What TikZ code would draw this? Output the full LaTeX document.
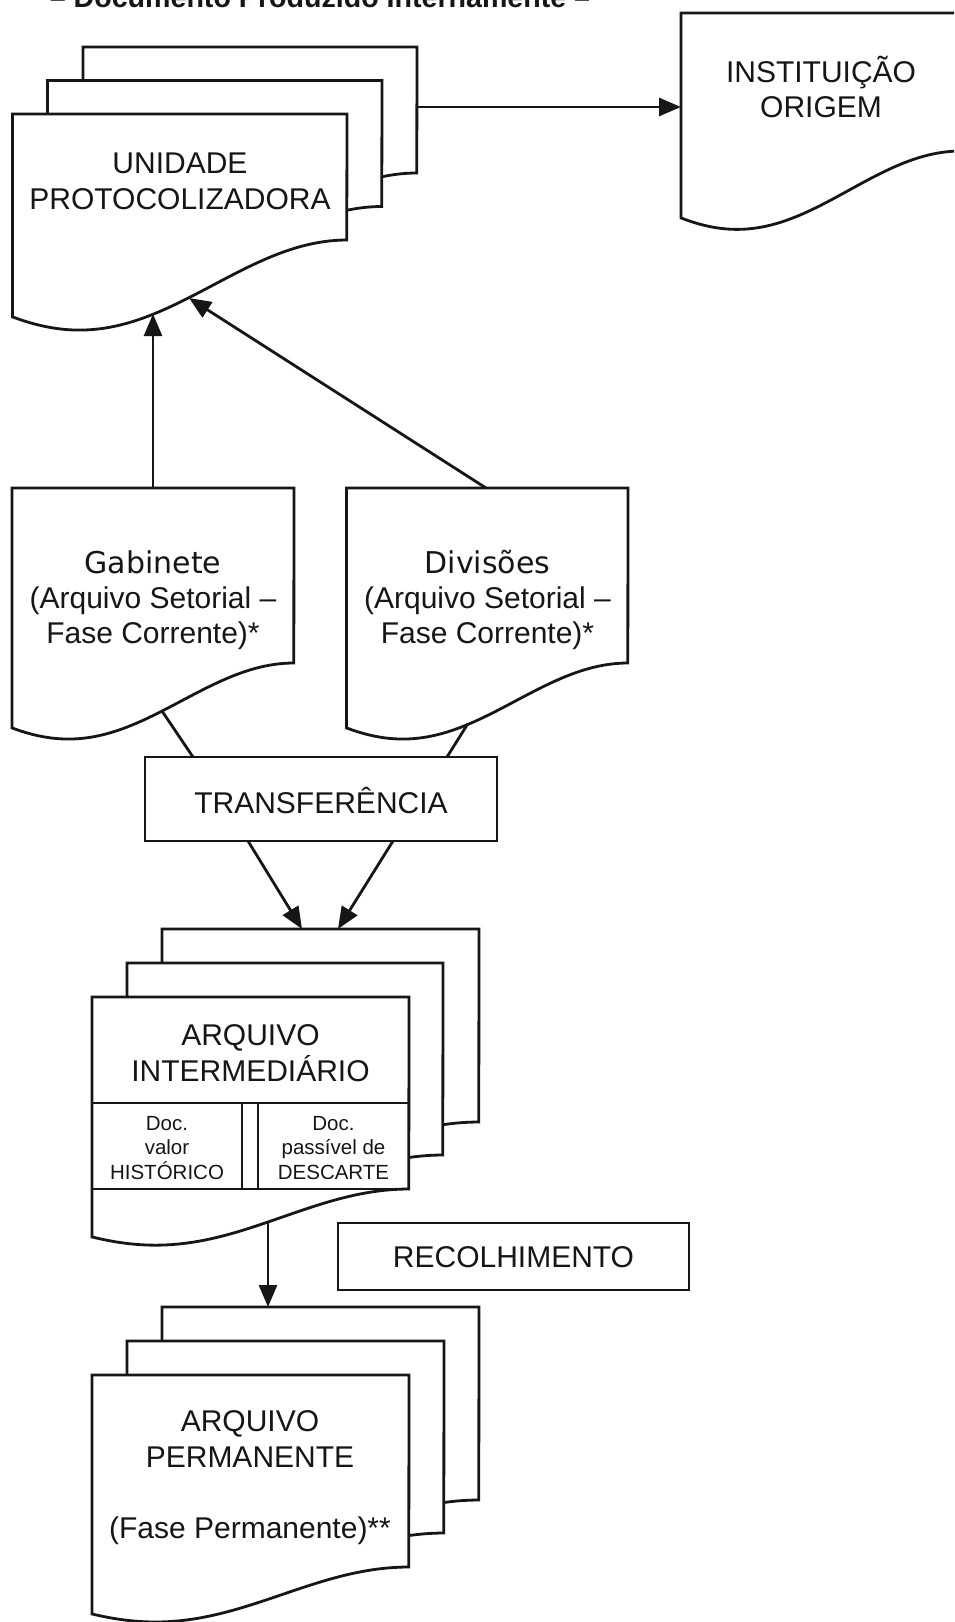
\documentclass[tikz,border=0pt]{standalone}
\usepackage{fontspec}
\setmainfont{Liberation Sans}
\newfontfamily\dejavu{DejaVu Sans}
\usetikzlibrary{arrows.meta}
\definecolor{ink}{RGB}{22,22,22}
\newcommand\stk[1]{\begin{tabular}[t]{@{}c@{}}#1\end{tabular}}
\newcommand\docshape[5]{\draw[docpage] (#1,#2) -- plot[domain=0:1,samples=60] ({#1+\x*(#3-#1)},{#4-(#4-#5)*(0.415-0.585*cos(225*\x-45))}) -- (#3,#2) -- cycle;}
\tikzset{
  docpage/.style={draw=ink, line width=2.8pt, fill=white, line join=miter},
  conn/.style={draw=ink, line width=2.8pt},
  arr/.style={draw=ink, line width=2.8pt, -{Triangle[length=22pt,width=18pt]}},
  txt/.style={text=ink, font=\fontsize{30}{36}\selectfont, inner sep=0pt, anchor=base},
  smalltxt/.style={text=ink, font=\fontsize{20.5}{24.5}\selectfont, inner sep=0pt, anchor=base},
  boxn/.style={draw=ink, line width=2.8pt, fill=white, inner sep=0pt, text=ink, font=\fontsize{30}{36}\selectfont}
}
\begin{document}
\begin{tikzpicture}[x=1pt,y=-1pt]
\useasboundingbox (0,0) rectangle (954,1622);
\clip (0,0) rectangle (954,1622);
\fill[white] (0,0) rectangle (954,1622);
\node[txt, font=\bfseries\fontsize{28.6}{34}\selectfont] (title) at (320,7) {– Documento Produzido Internamente –};

% UNIDADE PROTOCOLIZADORA
\docshape{83}{47}{417}{250}{173}
\docshape{47.5}{80.5}{382}{283.5}{206.5}
\docshape{12.5}{114}{347}{317}{240}
\node[txt] (unid) at (180,173) {\stk{UNIDADE\\PROTOCOLIZADORA}};

% INSTITUICAO ORIGEM
\docshape{681}{13}{961}{218}{151}
\node[txt, font=\fontsize{30}{35.5}\selectfont] (inst) at (821,82) {\stk{INSTITUIÇÃO\\ORIGEM}};

% Gabinete / Divisoes
\docshape{12}{488}{294}{728}{663}
\node[txt, font=\fontsize{30}{35}\selectfont] (gab) at (153,573) {\stk{{\dejavu Gabinete}\\(Arquivo Setorial –\\Fase Corrente)*}};
\docshape{346.5}{488}{628}{728}{663}
\node[txt, font=\fontsize{30}{35}\selectfont] (div) at (487.5,573) {\stk{{\dejavu Divisões}\\(Arquivo Setorial –\\Fase Corrente)*}};

% TRANSFERENCIA
\node[boxn, minimum width=352pt, minimum height=84pt, text height=28pt, text depth=0pt] (transf) at (321,799) {TRANSFERÊNCIA};

% ARQUIVO INTERMEDIARIO
\docshape{162}{929}{479}{1169}{1122}
\docshape{127}{963}{443}{1203}{1155}
\docshape{92}{997}{409}{1237}{1189}
\draw[conn] (92,1103) -- (409,1103);
\draw[conn] (242,1103) -- (242,1189);
\draw[conn] (258,1103) -- (258,1189);
\draw[conn] (92,1189) -- (409,1189);
\node[txt] (inter) at (250.5,1045) {\stk{ARQUIVO\\INTERMEDIÁRIO}};
\node[smalltxt] (hist) at (167,1130) {\stk{Doc.\\valor\\HISTÓRICO}};
\node[smalltxt] (desc) at (333.5,1130) {\stk{Doc.\\passível de\\DESCARTE}};

% RECOLHIMENTO
\node[boxn, minimum width=351pt, minimum height=67pt, text height=21pt, text depth=0pt] (recol) at (513.5,1256.5) {RECOLHIMENTO};

% ARQUIVO PERMANENTE
\docshape{162}{1307}{479}{1546}{1500}
\docshape{127}{1341}{444}{1580}{1533}
\docshape{92}{1375}{409}{1614}{1567}
\node[txt] (perm) at (250,1431) {\stk{ARQUIVO\\PERMANENTE\\[35.5pt](Fase Permanente)**}};

% connector end points
\coordinate (unidOut) at (417,107);
\coordinate (instIn) at (681,107);
\coordinate (gabTop) at (153,488);
\coordinate (unidIn1) at (153,314);
\coordinate (divTop) at (486,488);
\coordinate (unidIn2) at (189,298);
\coordinate (gabBot) at (162,711);
\coordinate (trIn1) at (193,757);
\coordinate (divBot) at (468,723.5);
\coordinate (trIn2) at (447,757);
\coordinate (trOut1) at (248,841);
\coordinate (interIn1) at (302,929);
\coordinate (trOut2) at (393,841);
\coordinate (interIn2) at (338,929);
\coordinate (interBot) at (268,1222);
\coordinate (permIn) at (268,1307);

\draw[arr] (unidOut) -- (instIn);
\draw[arr] (gabTop) -- (unidIn1);
\draw[arr] (divTop) -- (unidIn2);
\draw[conn] (gabBot) -- (trIn1);
\draw[conn] (divBot) -- (trIn2);
\draw[arr] (trOut1) -- (interIn1);
\draw[arr] (trOut2) -- (interIn2);
\draw[arr] (interBot) -- (permIn);
\end{tikzpicture}
\end{document}
